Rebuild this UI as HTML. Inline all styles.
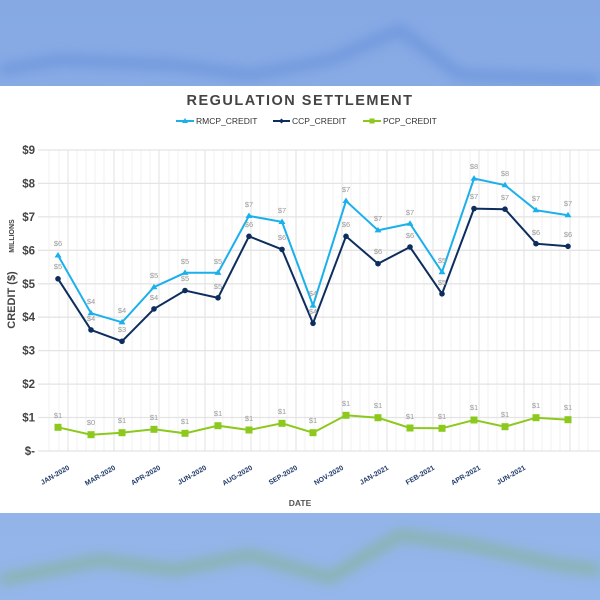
<!DOCTYPE html>
<html><head><style>
html,body{margin:0;padding:0;width:600px;height:600px;overflow:hidden;background:#8db0e6}
svg{display:block;font-family:"Liberation Sans",Arial,sans-serif}
</style></head><body>
<svg width="600" height="600" viewBox="0 0 600 600" xmlns="http://www.w3.org/2000/svg">
<defs>
<filter id="b" x="-20%" y="-50%" width="140%" height="200%"><feGaussianBlur stdDeviation="6"/></filter>
<linearGradient id="bg" x1="0" y1="0" x2="0" y2="1"><stop offset="0" stop-color="#86a9e4"/><stop offset="1" stop-color="#94b6ea"/></linearGradient>
</defs>
<rect width="600" height="600" fill="url(#bg)"/>
<g filter="url(#b)" opacity="0.55">
<polyline points="0,70 60,60 175,65 250,75 330,60 400,30 460,75 600,80" fill="none" stroke="#5a86d6" stroke-width="10"/>
<polyline points="0,580 100,560 175,570 250,555 330,578 400,535 470,545 560,565 600,570" fill="none" stroke="#7fb36a" stroke-width="10"/>
</g>
<rect x="0" y="86" width="600" height="427" fill="#fff"/>
<g stroke="#f1f1f1" stroke-width="1">
<line x1="49" y1="150" x2="49" y2="451"/><line x1="59" y1="150" x2="59" y2="451"/>
<line x1="77" y1="150" x2="77" y2="451"/><line x1="86" y1="150" x2="86" y2="451"/><line x1="95" y1="150" x2="95" y2="451"/><line x1="104" y1="150" x2="104" y2="451"/>
<line x1="123" y1="150" x2="123" y2="451"/><line x1="132" y1="150" x2="132" y2="451"/><line x1="141" y1="150" x2="141" y2="451"/><line x1="150" y1="150" x2="150" y2="451"/>
<line x1="169" y1="150" x2="169" y2="451"/><line x1="178" y1="150" x2="178" y2="451"/><line x1="187" y1="150" x2="187" y2="451"/><line x1="196" y1="150" x2="196" y2="451"/>
<line x1="214" y1="150" x2="214" y2="451"/><line x1="223" y1="150" x2="223" y2="451"/><line x1="232" y1="150" x2="232" y2="451"/><line x1="242" y1="150" x2="242" y2="451"/>
<line x1="260" y1="150" x2="260" y2="451"/><line x1="269" y1="150" x2="269" y2="451"/><line x1="278" y1="150" x2="278" y2="451"/><line x1="287" y1="150" x2="287" y2="451"/>
<line x1="305" y1="150" x2="305" y2="451"/><line x1="314" y1="150" x2="314" y2="451"/><line x1="323" y1="150" x2="323" y2="451"/><line x1="333" y1="150" x2="333" y2="451"/>
<line x1="351" y1="150" x2="351" y2="451"/><line x1="360" y1="150" x2="360" y2="451"/><line x1="369" y1="150" x2="369" y2="451"/><line x1="378" y1="150" x2="378" y2="451"/>
<line x1="396" y1="150" x2="396" y2="451"/><line x1="405" y1="150" x2="405" y2="451"/><line x1="415" y1="150" x2="415" y2="451"/><line x1="424" y1="150" x2="424" y2="451"/>
<line x1="442" y1="150" x2="442" y2="451"/><line x1="451" y1="150" x2="451" y2="451"/><line x1="460" y1="150" x2="460" y2="451"/><line x1="470" y1="150" x2="470" y2="451"/>
<line x1="488" y1="150" x2="488" y2="451"/><line x1="497" y1="150" x2="497" y2="451"/><line x1="506" y1="150" x2="506" y2="451"/><line x1="515" y1="150" x2="515" y2="451"/>
<line x1="533" y1="150" x2="533" y2="451"/><line x1="542" y1="150" x2="542" y2="451"/><line x1="551" y1="150" x2="551" y2="451"/><line x1="560" y1="150" x2="560" y2="451"/>
<line x1="579" y1="150" x2="579" y2="451"/><line x1="588" y1="150" x2="588" y2="451"/>
</g>
<g stroke="#e2e2e2" stroke-width="1">
<line x1="68" y1="150" x2="68" y2="451"/><line x1="114" y1="150" x2="114" y2="451"/><line x1="159" y1="150" x2="159" y2="451"/><line x1="205" y1="150" x2="205" y2="451"/><line x1="251" y1="150" x2="251" y2="451"/><line x1="296" y1="150" x2="296" y2="451"/><line x1="342" y1="150" x2="342" y2="451"/><line x1="387" y1="150" x2="387" y2="451"/><line x1="433" y1="150" x2="433" y2="451"/><line x1="479" y1="150" x2="479" y2="451"/><line x1="524" y1="150" x2="524" y2="451"/><line x1="570" y1="150" x2="570" y2="451"/>
</g>
<g stroke="#e4e4e4" stroke-width="1.3">
<line x1="38" y1="150" x2="600" y2="150"/><line x1="38" y1="183.4" x2="600" y2="183.4"/><line x1="38" y1="216.9" x2="600" y2="216.9"/><line x1="38" y1="250.3" x2="600" y2="250.3"/><line x1="38" y1="283.8" x2="600" y2="283.8"/><line x1="38" y1="317.2" x2="600" y2="317.2"/><line x1="38" y1="350.6" x2="600" y2="350.6"/><line x1="38" y1="384.1" x2="600" y2="384.1"/><line x1="38" y1="417.5" x2="600" y2="417.5"/><line x1="38" y1="451" x2="600" y2="451"/>
</g>
<g font-size="11.5" font-weight="bold" fill="#444" text-anchor="end">
<text x="35" y="154">$9</text><text x="35" y="187.4">$8</text><text x="35" y="220.9">$7</text><text x="35" y="254.3">$6</text><text x="35" y="287.8">$5</text><text x="35" y="321.2">$4</text><text x="35" y="354.6">$3</text><text x="35" y="388.1">$2</text><text x="35" y="421.5">$1</text><text x="35" y="455">$-</text>
</g>
<text transform="translate(15,300) rotate(-90)" font-size="11" font-weight="bold" fill="#444" text-anchor="middle">CREDIT ($)</text>
<text transform="translate(14,236) rotate(-90)" font-size="7" font-weight="bold" fill="#444" text-anchor="middle">MILLIONS</text>
<text x="300" y="105" font-size="14.5" font-weight="bold" fill="#444" text-anchor="middle" letter-spacing="1.5">REGULATION SETTLEMENT</text>
<g font-size="8.5" fill="#333">
<line x1="176" y1="121" x2="194" y2="121" stroke="#1ab0ec" stroke-width="2"/><path d="M185,118 L188,123 L182,123Z" fill="#1ab0ec"/><text x="196" y="124">RMCP_CREDIT</text>
<line x1="273" y1="121" x2="290" y2="121" stroke="#0c2d5e" stroke-width="2"/><path d="M281.5,118.5 L284,121 L281.5,123.5 L279,121Z" fill="#0c2d5e"/><text x="292" y="124">CCP_CREDIT</text>
<line x1="363" y1="121" x2="381" y2="121" stroke="#8cc91c" stroke-width="2"/><rect x="369.5" y="118.5" width="5" height="5" fill="#8cc91c"/><text x="383" y="124">PCP_CREDIT</text>
</g>
<polyline fill="none" stroke="#1ab0ec" stroke-width="2" points="58,255.4 91,313.2 122,322.3 154,287.1 185,272.8 218,272.8 249,215.9 282,221.9 313,305.5 346,200.9 378,230.3 410,223.6 442,272.1 474,178.5 505,185.2 536,210.2 568,215.2"/>
<polyline fill="none" stroke="#0c2d5e" stroke-width="2" points="58,278.8 91,329.9 122,341.3 154,308.9 185,290.5 218,297.8 249,236.3 282,249.4 313,323.3 346,236.3 378,263.7 410,247 442,293.8 474,208.6 505,209.2 536,243.7 568,246.3"/>
<polyline fill="none" stroke="#8cc91c" stroke-width="2" points="58,427.3 91,434.7 122,432.7 154,429.3 185,433.3 218,425.7 249,430 282,423.3 313,432.7 346,415.3 378,417.7 410,428 442,428.3 474,420 505,426.7 536,417.7 568,419.7"/>
<g fill="#1ab0ec">
<path d="M58,252 l3.5,5.5 h-7z"/><path d="M91,309.8 l3.5,5.5 h-7z"/><path d="M122,318.9 l3.5,5.5 h-7z"/><path d="M154,283.7 l3.5,5.5 h-7z"/><path d="M185,269.4 l3.5,5.5 h-7z"/><path d="M218,269.4 l3.5,5.5 h-7z"/><path d="M249,212.5 l3.5,5.5 h-7z"/><path d="M282,218.5 l3.5,5.5 h-7z"/><path d="M313,302.1 l3.5,5.5 h-7z"/><path d="M346,197.5 l3.5,5.5 h-7z"/><path d="M378,226.9 l3.5,5.5 h-7z"/><path d="M410,220.2 l3.5,5.5 h-7z"/><path d="M442,268.7 l3.5,5.5 h-7z"/><path d="M474,175.1 l3.5,5.5 h-7z"/><path d="M505,181.8 l3.5,5.5 h-7z"/><path d="M536,206.8 l3.5,5.5 h-7z"/><path d="M568,211.8 l3.5,5.5 h-7z"/>
</g>
<g fill="#0c2d5e">
<circle cx="58" cy="278.8" r="2.8"/><circle cx="91" cy="329.9" r="2.8"/><circle cx="122" cy="341.3" r="2.8"/><circle cx="154" cy="308.9" r="2.8"/><circle cx="185" cy="290.5" r="2.8"/><circle cx="218" cy="297.8" r="2.8"/><circle cx="249" cy="236.3" r="2.8"/><circle cx="282" cy="249.4" r="2.8"/><circle cx="313" cy="323.3" r="2.8"/><circle cx="346" cy="236.3" r="2.8"/><circle cx="378" cy="263.7" r="2.8"/><circle cx="410" cy="247" r="2.8"/><circle cx="442" cy="293.8" r="2.8"/><circle cx="474" cy="208.6" r="2.8"/><circle cx="505" cy="209.2" r="2.8"/><circle cx="536" cy="243.7" r="2.8"/><circle cx="568" cy="246.3" r="2.8"/>
</g>
<g fill="#8cc91c">
<rect x="54.5" y="423.8" width="7" height="7"/><rect x="87.5" y="431.2" width="7" height="7"/><rect x="118.5" y="429.2" width="7" height="7"/><rect x="150.5" y="425.8" width="7" height="7"/><rect x="181.5" y="429.8" width="7" height="7"/><rect x="214.5" y="422.2" width="7" height="7"/><rect x="245.5" y="426.5" width="7" height="7"/><rect x="278.5" y="419.8" width="7" height="7"/><rect x="309.5" y="429.2" width="7" height="7"/><rect x="342.5" y="411.8" width="7" height="7"/><rect x="374.5" y="414.2" width="7" height="7"/><rect x="406.5" y="424.5" width="7" height="7"/><rect x="438.5" y="424.8" width="7" height="7"/><rect x="470.5" y="416.5" width="7" height="7"/><rect x="501.5" y="423.2" width="7" height="7"/><rect x="532.5" y="414.2" width="7" height="7"/><rect x="564.5" y="416.2" width="7" height="7"/>
</g>
<g font-size="7.5" fill="#999" text-anchor="middle">
<text x="58" y="246">$6</text><text x="91" y="304">$4</text><text x="122" y="313">$4</text><text x="154" y="278">$5</text><text x="185" y="264">$5</text><text x="218" y="264">$5</text><text x="249" y="207">$7</text><text x="282" y="213">$7</text><text x="313" y="296">$4</text><text x="346" y="192">$7</text><text x="378" y="221">$7</text><text x="410" y="215">$7</text><text x="442" y="263">$5</text><text x="474" y="169">$8</text><text x="505" y="176">$8</text><text x="536" y="201">$7</text><text x="568" y="206">$7</text>
<text x="58" y="269">$5</text><text x="91" y="321">$4</text><text x="122" y="332">$3</text><text x="154" y="300">$4</text><text x="185" y="281">$5</text><text x="218" y="289">$5</text><text x="249" y="227">$6</text><text x="282" y="240">$6</text><text x="313" y="314">$4</text><text x="346" y="227">$6</text><text x="378" y="254">$6</text><text x="410" y="238">$6</text><text x="442" y="285">$5</text><text x="474" y="199">$7</text><text x="505" y="200">$7</text><text x="536" y="235">$6</text><text x="568" y="237">$6</text>
<text x="58" y="418">$1</text><text x="91" y="425">$0</text><text x="122" y="423">$1</text><text x="154" y="420">$1</text><text x="185" y="424">$1</text><text x="218" y="416">$1</text><text x="249" y="421">$1</text><text x="282" y="414">$1</text><text x="313" y="423">$1</text><text x="346" y="406">$1</text><text x="378" y="408">$1</text><text x="410" y="419">$1</text><text x="442" y="419">$1</text><text x="474" y="410">$1</text><text x="505" y="417">$1</text><text x="536" y="408">$1</text><text x="568" y="410">$1</text>
</g>
<g font-size="7" font-weight="bold" fill="#1f3a6a" text-anchor="end">
<text transform="translate(70,469) rotate(-30)">JAN-2020</text>
<text transform="translate(116,469) rotate(-30)">MAR-2020</text>
<text transform="translate(161,469) rotate(-30)">APR-2020</text>
<text transform="translate(207,469) rotate(-30)">JUN-2020</text>
<text transform="translate(253,469) rotate(-30)">AUG-2020</text>
<text transform="translate(298,469) rotate(-30)">SEP-2020</text>
<text transform="translate(344,469) rotate(-30)">NOV-2020</text>
<text transform="translate(389,469) rotate(-30)">JAN-2021</text>
<text transform="translate(435,469) rotate(-30)">FEB-2021</text>
<text transform="translate(481,469) rotate(-30)">APR-2021</text>
<text transform="translate(526,469) rotate(-30)">JUN-2021</text>
</g>
<text x="300" y="506" font-size="8.5" font-weight="bold" fill="#555" text-anchor="middle">DATE</text>
</svg>
</body></html>
